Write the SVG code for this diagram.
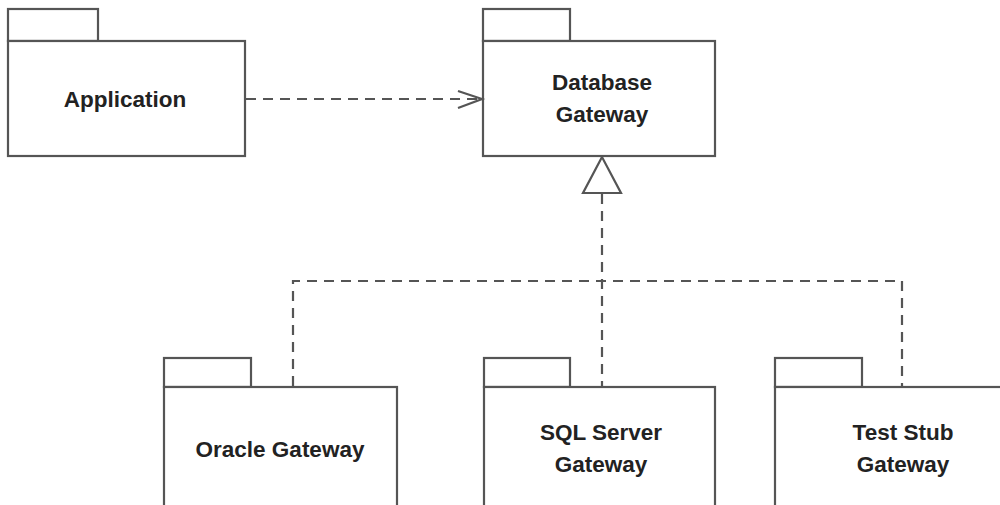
<svg xmlns="http://www.w3.org/2000/svg" width="1000" height="505" viewBox="0 0 1000 505">
<style>
.pk{fill:#fff;stroke:#555;stroke-width:2.2}
.lbl{font-family:"Liberation Sans",Arial,sans-serif;font-weight:bold;font-size:22.5px;fill:#222;text-anchor:middle}
.dash{fill:none;stroke:#555;stroke-width:2.2;stroke-dasharray:10 7}
.solid{fill:none;stroke:#555;stroke-width:2.2}
</style>
<rect width="1000" height="505" fill="#fff"/>
<g id="application">
<rect class="pk" x="8" y="9" width="90" height="32"/>
<rect class="pk" x="8" y="41" width="237" height="115"/>
<text class="lbl" x="125" y="107">Application</text>
</g>
<g id="database-gateway">
<rect class="pk" x="483" y="9" width="87" height="32"/>
<rect class="pk" x="483" y="41" width="232" height="115"/>
<text class="lbl" x="602" y="90">Database</text>
<text class="lbl" x="602" y="122">Gateway</text>
</g>
<g id="oracle-gateway">
<rect class="pk" x="164" y="358" width="87" height="29"/>
<rect class="pk" x="164" y="387" width="233" height="130"/>
<text class="lbl" x="280" y="457">Oracle Gateway</text>
</g>
<g id="sql-server-gateway">
<rect class="pk" x="484" y="358" width="86" height="29"/>
<rect class="pk" x="484" y="387" width="231" height="130"/>
<text class="lbl" x="601" y="440">SQL Server</text>
<text class="lbl" x="601" y="472">Gateway</text>
</g>
<g id="test-stub-gateway">
<rect class="pk" x="775" y="358" width="87" height="29"/>
<rect class="pk" x="775" y="387" width="232" height="130"/>
<text class="lbl" x="903" y="440">Test Stub</text>
<text class="lbl" x="903" y="472">Gateway</text>
</g>
<g id="connectors">
<line class="dash" x1="246" y1="99" x2="481" y2="99"/>
<polyline class="solid" points="458,91 482,99 458,108"/>
<polygon class="pk" points="602,157 583,193 621,193"/>
<line class="dash" x1="602" y1="194" x2="602" y2="386"/>
<polyline class="dash" points="293,386 293,281 902,281 902,386"/>
</g>
</svg>
